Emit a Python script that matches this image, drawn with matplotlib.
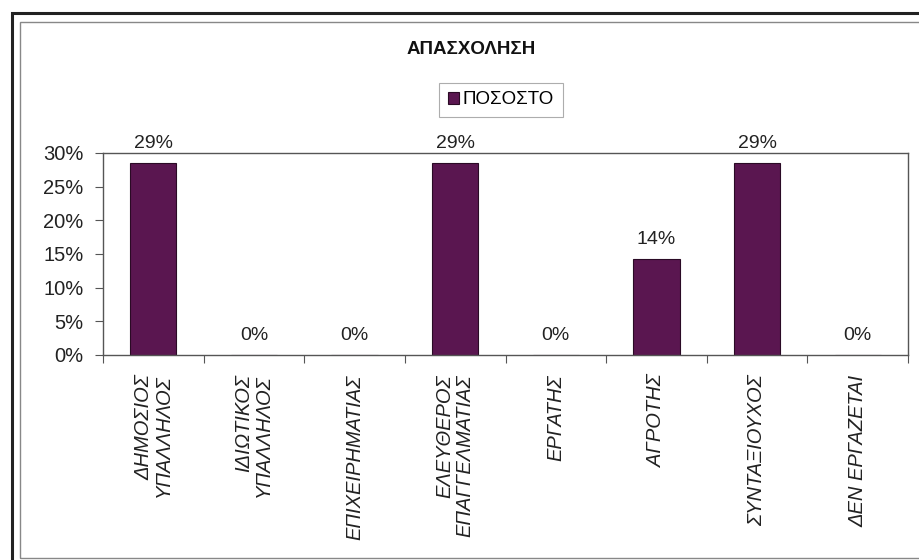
import matplotlib.pyplot as plt
from matplotlib.patches import Rectangle

plt.rcParams['font.family'] = ['Liberation Sans', 'DejaVu Sans']

categories = ['ΔΗΜΟΣΙΟΣ\nΥΠΑΛΛΗΛΟΣ', 'ΙΔΙΩΤΙΚΟΣ\nΥΠΑΛΛΗΛΟΣ', 'ΕΠΙΧΕΙΡΗΜΑΤΙΑΣ',
              'ΕΛΕΥΘΕΡΟΣ\nΕΠΑΓΓΕΛΜΑΤΙΑΣ', 'ΕΡΓΑΤΗΣ', 'ΑΓΡΟΤΗΣ',
              'ΣΥΝΤΑΞΙΟΥΧΟΣ', 'ΔΕΝ ΕΡΓΑΖΕΤΑΙ']
values = [0.2857, 0.0, 0.0, 0.2857, 0.0, 0.1429, 0.2857, 0.0]
value_labels = ['29%', '0%', '0%', '29%', '0%', '14%', '29%', '0%']
y_ticks = [0, 0.05, 0.10, 0.15, 0.20, 0.25, 0.30]
y_tick_labels = ['0%', '5%', '10%', '15%', '20%', '25%', '30%']

fig = plt.figure(figsize=(9.19, 5.6), dpi=100)

# scanned frames around the chart
fig.patches.append(Rectangle((12 / 919, -0.01), 1.0, 1 - 13 / 560 + 0.01, transform=fig.transFigure,
                             fill=False, edgecolor='#222222', linewidth=2.2))
fig.patches.append(Rectangle((20 / 919, 2 / 560), 1.0, 1 - 24 / 560, transform=fig.transFigure,
                             fill=False, edgecolor='#888888', linewidth=1.0))

ax = fig.add_axes([103 / 919, 1 - 355 / 560, (908 - 103) / 919, (355 - 153) / 560])

x = list(range(len(categories)))
bars = ax.bar(x, values, width=0.46, color='#5a1650', edgecolor='#2a0a25', linewidth=0.8, label='ΠΟΣΟΣΤΟ')

for xi, v, lab in zip(x, values, value_labels):
    ax.annotate(lab, (xi, v), xytext=(0, 8), textcoords='offset points',
                ha='center', va='bottom', fontsize=14, color='#222222')

ax.set_xlim(-0.5, len(categories) - 0.5)
ax.set_ylim(0, 0.30)
ax.set_yticks(y_ticks)
ax.set_yticklabels(y_tick_labels, fontsize=14.5, color='#222222')

ax.set_xticks([i + 0.5 for i in range(-1, len(categories))])
ax.set_xticklabels([])
ax.set_xticks(x, minor=True)
ax.set_xticklabels(categories, minor=True, rotation=90, fontsize=14.5, style='italic',
                   va='top', ha='center', multialignment='right', color='#222222', linespacing=1.05)
ax.tick_params(axis='x', which='minor', length=0, pad=14)
ax.tick_params(axis='x', which='major', length=6, direction='out', color='#555555')
ax.tick_params(axis='y', length=6, direction='out', color='#555555', pad=8)

for s in ax.spines.values():
    s.set_color('#555555')
    s.set_linewidth(1.0)

leg = fig.legend(handles=[bars], labels=['ΠΟΣΟΣΤΟ'], loc='center', bbox_to_anchor=(501 / 919, 1 - 100 / 560),
                 fontsize=13.5, frameon=True, fancybox=False, handlelength=0.6, handleheight=0.6,
                 handletextpad=0.2, borderpad=0.45, borderaxespad=0, edgecolor='#999999')
leg.get_frame().set_linewidth(0.8)

fig.text(471 / 919, 1 - 49 / 560, 'ΑΠΑΣΧΟΛΗΣΗ', ha='center', va='center', fontsize=13.5,
         fontweight='bold', color='#111111')

fig.savefig('out.png', dpi=100)
